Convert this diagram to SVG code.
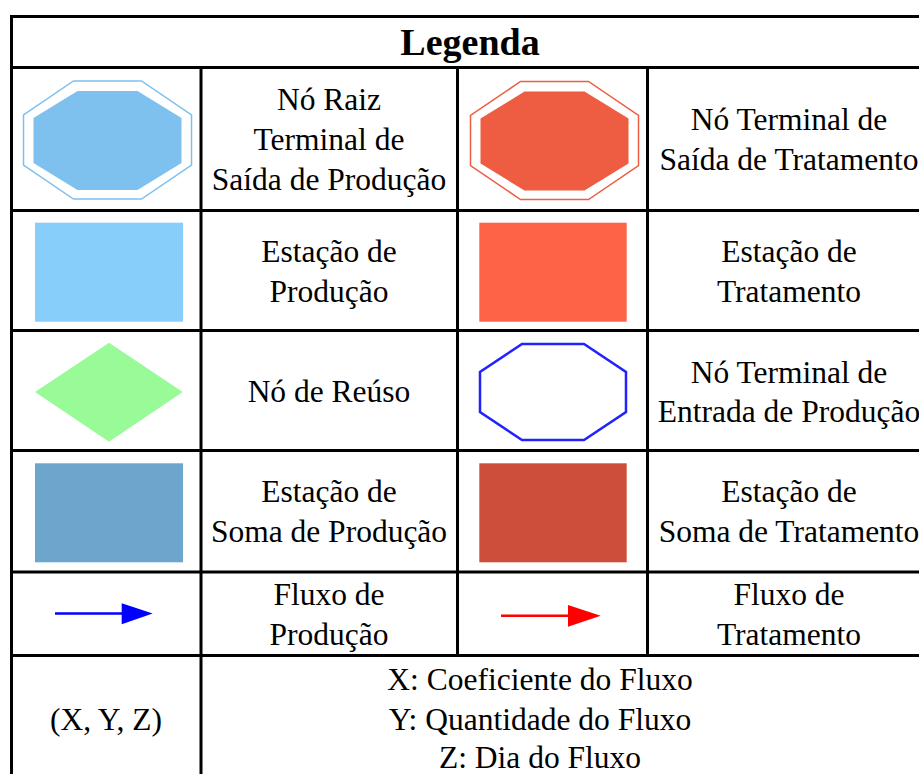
<svg xmlns="http://www.w3.org/2000/svg" width="919" height="774" viewBox="0 0 919 774">
<style>
.t{font-family:'Liberation Serif','Times New Roman',serif;font-size:31.5px;text-anchor:middle;fill:#000}
.h{font-family:'Liberation Serif','Times New Roman',serif;font-size:38px;font-weight:bold;text-anchor:middle;fill:#000}
.grid{stroke:#000;stroke-width:3;fill:none}
</style>
<defs>
<polygon id="octOuter" points="73.5,81 141.5,81 191.5,115 191.5,165 141.5,199 73.5,199 23.5,165 23.5,115"/>
<polygon id="octInner" points="77.5,91 137.5,91 181.5,118 181.5,163 137.5,190 77.5,190 33.5,163 33.5,118"/>
</defs>
<rect width="919" height="774" fill="#fff"/>
<g id="grid" class="grid">
<line x1="10" y1="16.5" x2="930" y2="16.5"/>
<line x1="11.5" y1="15" x2="11.5" y2="790"/>
<line x1="10" y1="67.5" x2="930" y2="67.5"/>
<line x1="10" y1="210.5" x2="930" y2="210.5"/>
<line x1="10" y1="330.5" x2="930" y2="330.5"/>
<line x1="10" y1="450.5" x2="930" y2="450.5"/>
<line x1="10" y1="572" x2="930" y2="572"/>
<line x1="10" y1="655.5" x2="930" y2="655.5"/>
<line x1="201" y1="67.5" x2="201" y2="790"/>
<line x1="457.5" y1="67.5" x2="457.5" y2="655.5"/>
<line x1="647.5" y1="67.5" x2="647.5" y2="655.5"/>
</g>
<g id="header"><text class="h" x="470" y="55">Legenda</text></g>
<g id="no-raiz">
<use href="#octOuter" fill="none" stroke="#7EC0EE" stroke-width="1.5"/>
<use href="#octInner" fill="#7EC0EE"/>
<text class="t" x="329" y="110">Nó Raiz</text>
<text class="t" x="329" y="150">Terminal de</text>
<text class="t" x="329" y="190">Saída de Produção</text>
</g>
<g id="no-terminal-saida-tratamento">
<g transform="translate(447,0.5)">
<use href="#octOuter" fill="none" stroke="#EE5C42" stroke-width="1.5"/>
<use href="#octInner" fill="#EE5C42"/>
</g>
<text class="t" x="789" y="130">Nó Terminal de</text>
<text class="t" x="789" y="170">Saída de Tratamento</text>
</g>
<g id="estacao-producao">
<rect x="35" y="222.7" width="148" height="99" fill="#87CEFA"/>
<text class="t" x="329" y="262">Estação de</text>
<text class="t" x="329" y="302">Produção</text>
</g>
<g id="estacao-tratamento">
<rect x="479.3" y="222.7" width="147.4" height="99" fill="#FF6347"/>
<text class="t" x="789" y="262">Estação de</text>
<text class="t" x="789" y="302">Tratamento</text>
</g>
<g id="no-reuso">
<polygon points="35,392 109,342.7 182.7,392 109,441.7" fill="#98FB98"/>
<text class="t" x="329" y="402">Nó de Reúso</text>
</g>
<g id="no-terminal-entrada-producao">
<polygon points="522,344 584,344 626,372 626,412 584,440 522,440 480,412 480,372" fill="none" stroke="#2222FF" stroke-width="2.5"/>
<text class="t" x="789" y="382.5">Nó Terminal de</text>
<text class="t" x="789" y="422">Entrada de Produção</text>
</g>
<g id="estacao-soma-producao">
<rect x="35" y="463.3" width="148" height="99" fill="#6CA6CD"/>
<text class="t" x="329" y="502">Estação de</text>
<text class="t" x="329" y="542">Soma de Produção</text>
</g>
<g id="estacao-soma-tratamento">
<rect x="479.3" y="463.3" width="147.4" height="99" fill="#CD4F39"/>
<text class="t" x="789" y="502">Estação de</text>
<text class="t" x="789" y="542">Soma de Tratamento</text>
</g>
<g id="connectors">
<line x1="55" y1="613.6" x2="123" y2="613.6" stroke="#0000FF" stroke-width="2.5"/>
<polygon points="121.7,603.3 152.7,613.6 121.7,624.3" fill="#0000FF"/>
<line x1="501" y1="615.8" x2="569" y2="615.8" stroke="#FF0000" stroke-width="2.5"/>
<polygon points="568,605 600.7,615.8 568,626.7" fill="#FF0000"/>
</g>
<g id="fluxo-producao">
<text class="t" x="329" y="605">Fluxo de</text>
<text class="t" x="329" y="645">Produção</text>
</g>
<g id="fluxo-tratamento">
<text class="t" x="789" y="605">Fluxo de</text>
<text class="t" x="789" y="645">Tratamento</text>
</g>
<g id="xyz">
<text class="t" x="106" y="730">(X, Y, Z)</text>
<text class="t" x="540" y="689.5">X: Coeficiente do Fluxo</text>
<text class="t" x="540" y="729.5">Y: Quantidade do Fluxo</text>
<text class="t" x="540" y="768">Z: Dia do Fluxo</text>
</g>
</svg>
